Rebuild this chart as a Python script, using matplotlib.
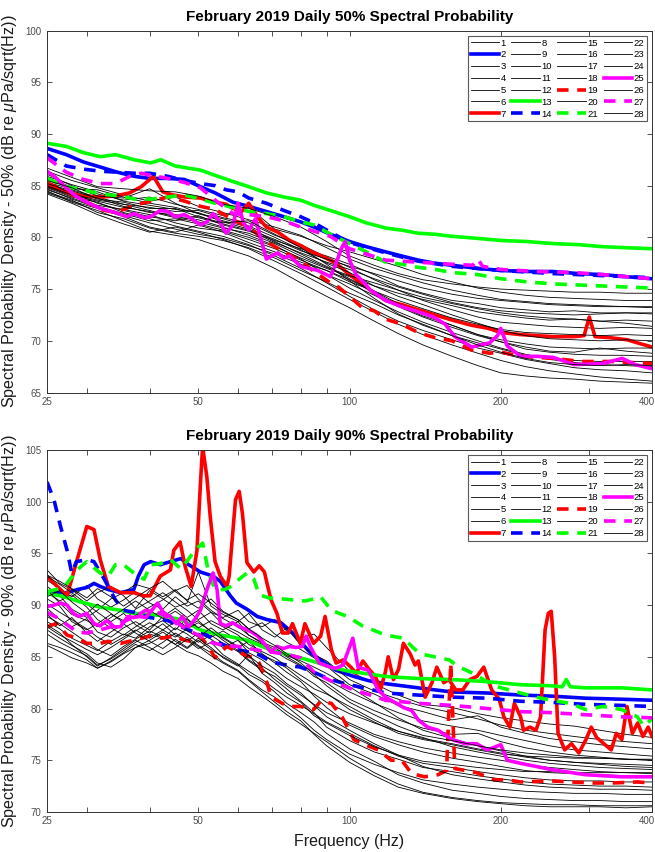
import matplotlib
matplotlib.use('Agg')
from matplotlib import pyplot as plt
from matplotlib import transforms
from matplotlib.ticker import FixedLocator, FixedFormatter, NullFormatter

plt.rcParams['font.family'] = ['Liberation Sans', 'DejaVu Sans']
plt.rcParams['mathtext.fontset'] = 'custom'
plt.rcParams['mathtext.it'] = 'Liberation Sans:italic'
plt.rcParams['mathtext.rm'] = 'Liberation Sans'

# ---- 50% daily spectra (dB re uPa/sqrt(Hz)) ----
freq_50 = [25, 28, 31.5, 35.5, 40, 45, 50, 56, 63, 71, 80, 90, 100, 112, 125,
           140, 160, 180, 200, 224, 250, 280, 315, 355, 400]

p50_d01 = [85.6, 84.9, 84.2, 83.6, 83.9, 83.2, 82.7, 82.1, 82.9, 80.8, 80.1, 79.2, 78.6, 77.9, 77.2, 76.4, 75.7, 75.1, 74.7, 74.4, 74.2, 74.1, 74.0, 73.9, 73.9]
p50_d03 = [86.4, 85.5, 84.8, 84.1, 83.5, 83.9, 83.0, 82.4, 81.7, 81.0, 80.2, 79.0, 77.9, 77.0, 76.3, 75.6, 74.9, 74.4, 74.0, 73.8, 73.6, 73.5, 73.4, 73.3, 73.2]
p50_d04 = [85.1, 84.3, 83.3, 82.6, 82.0, 81.6, 82.1, 81.2, 80.6, 79.7, 78.9, 78.2, 77.4, 76.4, 75.3, 74.6, 73.9, 73.6, 73.2, 73.0, 72.8, 72.9, 72.7, 72.7, 72.6]
p50_d05 = [84.6, 83.8, 83.0, 82.3, 81.6, 81.8, 81.3, 80.7, 80.0, 79.1, 78.0, 77.0, 76.2, 75.3, 74.6, 74.0, 73.4, 72.8, 72.5, 72.2, 72.0, 72.1, 71.9, 72.0, 71.9]
p50_d06 = [85.8, 84.6, 83.9, 83.2, 82.9, 82.5, 82.6, 81.9, 81.4, 80.2, 79.3, 78.1, 77.1, 75.9, 74.9, 73.9, 73.0, 72.3, 71.8, 71.6, 71.4, 71.3, 71.2, 71.3, 71.2]
p50_d08 = [84.3, 83.5, 82.8, 82.0, 81.0, 80.5, 81.2, 80.5, 79.5, 78.6, 77.6, 76.8, 75.7, 74.8, 73.9, 73.1, 72.2, 71.6, 71.1, 70.8, 70.7, 70.6, 70.5, 70.6, 70.5]
p50_d09 = [85.3, 84.7, 84.6, 83.9, 83.3, 82.9, 82.3, 81.8, 81.1, 80.0, 78.8, 77.5, 76.6, 75.3, 74.3, 73.5, 72.5, 71.7, 71.0, 70.5, 70.2, 70.1, 70.0, 70.1, 70.0]
p50_d10 = [84.9, 84.0, 83.1, 82.7, 82.2, 81.4, 80.9, 80.6, 79.8, 78.9, 77.8, 76.8, 75.9, 74.7, 73.4, 72.4, 71.5, 70.6, 70.1, 69.7, 69.4, 69.3, 69.2, 69.3, 69.3]
p50_d11 = [86.1, 85.0, 84.0, 83.8, 84.7, 83.3, 82.3, 81.6, 81.0, 79.6, 78.4, 77.2, 76.0, 74.8, 73.6, 72.6, 71.5, 70.6, 69.9, 69.2, 68.9, 68.7, 68.6, 68.6, 68.5]
p50_d12 = [84.4, 83.6, 82.4, 81.8, 80.9, 80.4, 80.1, 79.7, 79.0, 78.0, 76.8, 75.7, 74.6, 73.6, 72.5, 71.6, 70.5, 69.8, 69.2, 68.6, 68.3, 68.1, 68.0, 68.0, 68.0]
p50_d15 = [85.4, 84.2, 83.6, 83.2, 82.6, 82.0, 81.7, 81.0, 80.2, 79.2, 77.9, 76.4, 75.1, 73.9, 72.8, 71.8, 70.8, 70.0, 69.3, 68.7, 68.2, 67.9, 67.7, 67.6, 67.5]
p50_d16 = [84.8, 83.9, 83.4, 82.4, 81.8, 81.1, 80.6, 80.1, 79.3, 78.2, 77.0, 75.6, 74.3, 73.0, 71.9, 71.0, 70.1, 69.3, 68.8, 68.2, 67.8, 67.4, 67.2, 67.1, 66.9]
p50_d17 = [84.2, 83.3, 82.2, 81.3, 80.5, 81.0, 80.5, 79.8, 78.9, 77.7, 76.5, 75.2, 74.0, 72.8, 71.6, 70.6, 69.6, 68.8, 68.1, 67.5, 67.1, 66.8, 66.5, 66.3, 66.1]
p50_d18 = [85.9, 85.1, 84.4, 83.5, 83.1, 82.7, 82.4, 81.5, 80.8, 79.8, 78.7, 77.9, 77.2, 76.5, 75.8, 75.1, 74.5, 74.1, 73.9, 73.7, 73.5, 73.4, 73.3, 73.3, 73.3]
p50_d20 = [85.2, 84.5, 83.8, 83.0, 82.4, 82.2, 81.9, 81.3, 80.7, 79.5, 78.5, 77.6, 76.9, 76.0, 75.2, 74.5, 73.7, 73.2, 72.9, 72.7, 72.6, 72.5, 72.6, 72.7, 72.7]
p50_d22 = [86.7, 85.8, 84.9, 84.7, 84.5, 84.4, 84.0, 83.2, 82.8, 82.0, 81.0, 79.6, 78.2, 77.3, 76.5, 75.9, 75.5, 75.2, 75.0, 74.9, 74.8, 74.7, 74.7, 74.6, 74.6]
p50_d23 = [85.0, 84.1, 83.5, 82.9, 82.5, 81.9, 81.5, 80.9, 80.4, 79.4, 78.2, 77.1, 76.3, 75.6, 74.9, 74.2, 73.6, 73.1, 72.7, 72.4, 72.2, 72.1, 71.9, 71.7, 71.4]
p50_d24 = [84.7, 83.7, 82.9, 82.1, 81.4, 80.8, 80.3, 79.9, 79.2, 78.4, 77.4, 76.4, 75.5, 74.4, 73.3, 72.3, 71.3, 70.5, 69.9, 69.4, 69.0, 68.9, 69.3, 69.0, 68.8]
p50_d26 = [85.5, 84.8, 83.7, 83.4, 82.8, 82.8, 82.0, 81.4, 81.6, 80.3, 79.0, 77.4, 75.8, 74.1, 72.6, 71.5, 70.5, 69.6, 68.9, 68.3, 67.9, 67.7, 67.6, 67.7, 67.6]
p50_d28 = [84.5, 83.4, 82.6, 81.6, 80.6, 80.2, 79.8, 79.0, 78.2, 77.0, 75.6, 74.3, 73.2, 71.9, 70.7, 69.6, 68.5, 67.6, 66.9, 66.6, 66.4, 66.3, 66.1, 66.0, 65.9]

f50_d02 = [25, 27.3, 29.5, 31.9, 34.5, 37.3, 40, 43.5, 46.9, 50.5, 54, 58.6, 63, 68.3, 74, 79.9, 85, 91.6, 100, 108, 118, 127, 137, 148, 160, 180, 200, 225, 254, 285, 319, 355, 400]
p50_d02 = [88.6, 88.0, 87.3, 86.8, 86.3, 85.9, 85.7, 85.7, 85.6, 84.9, 84.3, 83.4, 83.0, 82.5, 82.0, 81.5, 81.0, 80.3, 79.6, 79.1, 78.6, 78.2, 77.8, 77.5, 77.3, 77.0, 76.8, 76.7, 76.7, 76.5, 76.4, 76.2, 76.0]

f50_d07 = [25, 27.3, 29.5, 31.9, 34.2, 36.5, 38.5, 40.7, 42.5, 44.5, 47.1, 50.5, 53, 56.8, 58.6, 61, 63, 66, 68.3, 72, 76, 80, 84, 88, 94, 100, 110, 118, 127, 137, 148, 160, 175, 189, 200, 219, 254, 280, 293, 300, 308, 330, 357, 380, 400]
p50_d07 = [85.0, 84.4, 84.0, 83.9, 84.0, 84.3, 84.9, 85.9, 84.4, 84.1, 83.9, 83.8, 83.5, 83.2, 82.8, 82.5, 83.3, 81.8, 81.0, 80.5, 79.7, 79.2, 78.6, 78.2, 77.5, 76.4, 74.9, 73.9, 73.5, 73.0, 72.5, 72.0, 71.5, 71.2, 70.8, 70.6, 70.4, 70.4, 70.5, 72.3, 70.4, 70.3, 70.1, 69.7, 69.4]

f50_d13 = [25, 27.3, 29.5, 31.9, 34.2, 37.3, 40.2, 42.1, 45, 50.5, 54, 58.6, 63, 68.3, 74, 79.9, 85, 91.6, 100, 108, 118, 127, 137, 148, 160, 180, 200, 225, 254, 285, 319, 355, 400]
p50_d13 = [89.1, 88.8, 88.2, 87.8, 88.0, 87.5, 87.2, 87.5, 86.9, 86.5, 86.0, 85.4, 84.9, 84.3, 83.9, 83.6, 83.1, 82.6, 82.0, 81.4, 80.9, 80.7, 80.4, 80.3, 80.1, 79.9, 79.7, 79.6, 79.4, 79.3, 79.1, 79.0, 78.9]

f50_d14 = [25, 27.3, 29.5, 31.9, 34.5, 37.3, 40, 43.5, 46.9, 50.5, 54, 56.8, 60, 63, 68.3, 74, 79.9, 85, 91.6, 100, 118, 137, 160, 200, 254, 319, 400]
p50_d14 = [88.0, 86.9, 86.6, 86.4, 86.3, 86.2, 86.2, 85.9, 85.5, 85.2, 85.0, 84.6, 84.4, 83.8, 83.3, 82.6, 82.0, 81.4, 80.5, 79.5, 78.5, 77.7, 77.2, 76.8, 76.5, 76.3, 76.1]

f50_d19 = [25, 27.3, 29.5, 31.9, 34.2, 37.3, 40.2, 43.5, 47, 50.5, 54, 58.6, 63, 68.3, 74, 79.9, 85, 91.6, 95, 100, 106, 112, 118, 127, 137, 148, 160, 175, 190, 200, 220, 254, 290, 330, 365, 400]
p50_d19 = [85.3, 84.4, 83.6, 82.7, 82.4, 83.1, 83.5, 83.9, 83.5, 83.0, 82.7, 81.7, 81.0, 79.6, 78.6, 77.7, 76.7, 75.6, 75.2, 74.3, 73.2, 72.9, 72.1, 71.6, 70.8, 70.3, 70.0, 69.1, 68.8, 68.9, 68.5, 68.3, 68.0, 68.0, 67.9, 67.8]

f50_d21 = [25, 27.3, 29.5, 31.9, 35, 37.3, 40.2, 43.5, 47, 50.5, 54, 58.6, 63, 68.3, 74, 79.9, 85, 91.6, 100, 110, 118, 127, 137, 148, 160, 180, 200, 225, 254, 285, 319, 355, 400]
p50_d21 = [85.7, 84.9, 84.6, 84.2, 84.0, 83.7, 83.7, 83.9, 84.1, 83.7, 83.3, 82.9, 82.5, 82.3, 82.0, 81.5, 81.2, 80.3, 79.4, 78.4, 77.6, 77.4, 77.1, 76.9, 76.6, 76.4, 76.0, 75.7, 75.5, 75.4, 75.3, 75.2, 75.1]

f50_d25 = [25, 26, 27.3, 28.5, 30, 31.9, 34.2, 36, 37.3, 39, 40.2, 42, 43.5, 45, 46.9, 48.5, 50.5, 52, 53.5, 55, 56.8, 58.6, 60, 61.5, 63, 65, 68.3, 70.5, 72, 74, 76, 79.9, 83, 86.5, 91.6, 94, 96.5, 98, 100, 103, 106, 110, 118, 127, 137, 147, 155, 162, 175, 190, 197, 200, 206, 219, 236, 254, 280, 319, 349, 370, 400]
p50_d25 = [86.4, 85.8, 84.8, 84.0, 83.4, 82.8, 82.4, 82.0, 82.3, 81.9, 82.0, 82.6, 82.5, 82.0, 82.2, 81.8, 81.2, 81.5, 82.3, 81.6, 80.4, 81.2, 83.3, 81.4, 80.7, 81.8, 77.9, 78.3, 78.5, 78.0, 78.2, 77.2, 77.0, 76.8, 76.2, 77.5, 79.0, 79.6, 77.8, 76.4, 75.8, 74.9, 73.9, 73.3, 72.8, 72.3, 71.6, 70.4, 69.4, 69.8, 70.5, 71.2, 69.5, 68.5, 68.5, 68.4, 67.7, 67.8, 68.3, 67.7, 67.3]

f50_d27 = [25, 27.3, 29.5, 31.9, 34.2, 36.5, 38.5, 40.2, 43.5, 47, 50.5, 54, 58.6, 63, 68.3, 74, 79.9, 85, 91.6, 100, 118, 137, 160, 176, 180, 184, 200, 236, 280, 319, 355, 400]
p50_d27 = [87.7, 86.3, 85.6, 85.2, 85.2, 85.9, 86.2, 86.0, 85.7, 85.3, 84.8, 83.6, 82.3, 82.2, 82.0, 81.6, 81.0, 80.6, 80.1, 78.9, 77.8, 77.6, 77.4, 77.3, 77.9, 77.2, 76.9, 76.7, 76.6, 76.4, 76.2, 76.0]

# ---- 90% daily spectra ----
freq_90 = [25, 26.5, 28, 30, 31.5, 33.5, 35.5, 37.5, 40, 42.5, 45, 47.5, 50, 53, 56, 60, 63, 67,
           71, 75, 80, 85, 90, 100, 112, 125, 140, 160, 180, 200, 224, 250, 280, 315, 355, 400]

p90_d01 = [92.4, 91.6, 90.8, 91.9, 90.6, 89.8, 90.5, 91.3, 90.2, 89.6, 90.8, 89.9, 90.4, 89.3, 88.8, 89.5, 88.4, 87.9, 88.6, 87.5, 86.8, 87.2, 85.9, 83.6, 82.4, 81.3, 80.4, 80.1, 79.5, 79.1, 78.8, 78.5, 78.3, 77.9, 77.5, 77.2]
p90_d03 = [93.4, 92.1, 91.5, 90.4, 91.2, 91.8, 90.9, 89.7, 91.4, 90.6, 89.8, 90.2, 93.2, 89.9, 89.1, 88.4, 89.2, 87.6, 86.9, 87.8, 86.1, 85.2, 84.6, 82.8, 81.7, 80.9, 80.2, 79.6, 79.0, 78.4, 77.9, 77.6, 77.3, 77.0, 76.8, 76.6]
p90_d04 = [91.8, 90.9, 89.6, 88.8, 89.5, 90.6, 91.2, 92.0, 91.6, 90.8, 91.5, 90.4, 89.7, 90.6, 89.4, 88.6, 87.7, 88.3, 87.2, 86.4, 85.7, 84.9, 84.1, 82.3, 81.4, 80.3, 79.7, 78.9, 79.3, 78.2, 77.6, 77.1, 76.8, 76.5, 76.3, 76.1]
p90_d05 = [90.6, 89.9, 88.4, 87.6, 88.2, 89.1, 88.5, 89.6, 90.4, 91.2, 90.3, 89.5, 88.6, 89.3, 88.1, 87.4, 86.8, 86.2, 85.5, 84.8, 84.1, 83.6, 82.8, 81.6, 80.5, 79.6, 78.8, 78.3, 77.9, 77.4, 76.9, 76.4, 76.0, 75.8, 75.6, 75.4]
p90_d06 = [89.7, 88.6, 87.9, 88.7, 87.4, 86.9, 87.8, 88.4, 87.6, 88.9, 89.7, 88.8, 89.5, 88.2, 87.6, 88.4, 87.1, 86.3, 85.7, 85.0, 84.2, 83.1, 82.5, 80.9, 79.8, 78.9, 78.1, 77.5, 77.6, 76.8, 76.2, 75.8, 75.5, 75.3, 75.1, 75.0]
p90_d08 = [88.4, 87.7, 86.8, 86.1, 85.6, 86.5, 87.2, 86.8, 87.9, 88.5, 87.6, 88.7, 87.8, 86.9, 87.5, 86.6, 85.8, 85.2, 84.6, 83.9, 82.8, 81.9, 81.4, 80.2, 78.9, 77.8, 77.1, 76.6, 76.1, 75.7, 75.3, 75.0, 74.8, 74.7, 74.6, 74.5]
p90_d09 = [92.8, 92.0, 91.2, 90.1, 89.3, 88.4, 89.2, 88.1, 87.3, 88.2, 87.1, 86.5, 87.3, 86.7, 85.9, 86.6, 85.4, 84.7, 83.8, 82.9, 82.1, 81.4, 80.6, 79.5, 78.6, 77.8, 77.2, 76.3, 75.8, 75.4, 75.0, 74.7, 74.5, 74.3, 74.2, 74.1]
p90_d10 = [87.2, 86.4, 85.8, 85.1, 84.2, 84.8, 85.6, 86.4, 87.2, 86.8, 87.8, 87.2, 86.4, 87.1, 86.3, 85.5, 84.6, 83.7, 83.1, 82.2, 81.3, 80.4, 79.6, 78.6, 77.5, 76.8, 76.2, 75.7, 75.3, 75.0, 74.6, 74.3, 74.1, 73.9, 73.8, 73.7]
p90_d11 = [91.2, 90.4, 91.0, 89.8, 88.6, 87.8, 87.1, 87.9, 88.8, 89.5, 88.6, 87.9, 88.5, 87.4, 86.8, 85.9, 86.5, 85.3, 84.4, 83.5, 82.6, 81.2, 80.1, 78.4, 77.3, 76.5, 75.8, 75.2, 74.8, 74.4, 74.0, 73.8, 73.7, 73.6, 73.5, 73.4]
p90_d12 = [86.3, 85.9, 85.4, 84.7, 83.9, 84.6, 85.4, 86.2, 85.6, 86.4, 87.3, 86.6, 85.8, 86.4, 85.2, 84.3, 83.6, 82.8, 81.9, 81.1, 80.3, 79.5, 78.7, 77.6, 76.4, 75.4, 74.7, 74.3, 73.9, 73.6, 73.3, 73.1, 73.0, 73.0, 72.9, 72.9]
p90_d15 = [90.1, 89.3, 88.6, 87.7, 86.9, 86.2, 86.9, 87.6, 86.8, 87.6, 86.9, 87.7, 88.3, 87.5, 86.6, 85.6, 84.7, 83.9, 82.8, 81.9, 80.7, 79.6, 78.2, 76.9, 75.8, 75.1, 74.3, 73.9, 73.5, 73.2, 72.9, 72.7, 72.6, 72.5, 72.5, 72.4]
p90_d16 = [88.9, 88.2, 87.4, 86.4, 85.7, 85.1, 86.0, 86.7, 87.5, 86.9, 86.2, 86.9, 86.1, 85.4, 84.5, 83.7, 82.8, 81.8, 81.1, 80.2, 79.1, 77.9, 77.0, 75.6, 74.6, 73.8, 73.1, 72.7, 72.4, 72.2, 72.0, 71.9, 71.8, 71.8, 71.7, 71.7]
p90_d17 = [87.6, 86.8, 86.1, 85.3, 84.4, 84.0, 84.8, 85.9, 86.6, 87.4, 86.5, 85.8, 86.6, 85.7, 85.0, 84.2, 83.3, 82.6, 81.6, 80.5, 79.6, 78.7, 77.6, 76.1, 74.9, 73.6, 72.8, 72.1, 71.8, 71.5, 71.3, 71.2, 71.1, 71.1, 71.0, 71.0]
p90_d18 = [86.1, 85.5, 84.9, 84.4, 83.9, 84.5, 85.3, 85.9, 86.3, 87.0, 86.2, 85.5, 85.1, 84.4, 83.6, 82.9, 82.1, 81.2, 80.3, 79.4, 78.5, 77.6, 76.8, 75.2, 73.8, 72.7, 71.9, 71.4, 71.1, 70.9, 70.8, 70.7, 70.7, 70.6, 70.6, 70.6]
p90_d20 = [91.5, 90.2, 89.1, 88.5, 87.9, 88.8, 89.6, 90.4, 89.5, 88.7, 89.4, 88.6, 87.8, 88.5, 87.9, 87.1, 86.2, 85.5, 84.9, 84.1, 83.2, 82.4, 81.5, 79.9, 78.7, 77.6, 77.0, 76.5, 76.0, 75.6, 75.4, 75.3, 75.2, 75.2, 75.1, 75.1]
p90_d22 = [89.1, 88.0, 88.8, 87.3, 86.5, 87.4, 88.2, 87.3, 86.5, 85.8, 86.7, 85.9, 86.8, 85.9, 84.9, 84.1, 85.2, 83.4, 82.5, 81.5, 80.6, 79.3, 78.6, 77.4, 76.3, 75.5, 74.9, 74.6, 74.3, 74.1, 73.9, 73.9, 73.8, 73.8, 73.8, 73.8]
p90_d23 = [90.8, 91.4, 90.3, 89.2, 90.1, 89.2, 88.3, 89.0, 89.8, 90.5, 91.4, 91.9, 90.6, 89.5, 88.7, 87.9, 87.1, 86.4, 85.9, 85.1, 84.6, 84.0, 83.4, 82.1, 80.6, 79.1, 77.9, 77.1, 76.4, 75.9, 75.4, 75.0, 74.8, 74.6, 74.4, 74.3]
p90_d24 = [87.9, 87.1, 86.5, 85.7, 85.2, 85.9, 86.7, 87.5, 88.3, 87.6, 88.4, 87.5, 86.9, 87.8, 86.9, 86.0, 85.1, 84.1, 83.4, 82.4, 81.5, 80.3, 79.2, 77.9, 76.6, 75.5, 74.4, 73.6, 73.2, 72.9, 72.6, 72.4, 72.3, 72.2, 72.2, 72.1]
p90_d26 = [88.1, 87.3, 86.2, 85.0, 84.1, 84.9, 85.8, 86.6, 85.9, 85.2, 85.9, 86.7, 86.0, 85.1, 84.4, 83.6, 82.7, 81.6, 80.6, 79.7, 78.8, 77.5, 76.4, 74.8, 73.5, 72.4, 71.8, 71.3, 71.0, 70.8, 70.6, 70.5, 70.5, 70.5, 70.4, 70.5]
p90_d28 = [92.9, 92.3, 91.6, 90.7, 91.6, 90.8, 89.9, 90.7, 91.6, 92.3, 91.3, 90.5, 91.1, 90.2, 89.3, 88.6, 87.7, 86.8, 86.1, 85.3, 84.4, 83.3, 82.2, 80.6, 79.4, 78.3, 77.4, 76.9, 76.4, 76.0, 75.7, 75.5, 75.3, 75.2, 75.1, 75.0]

f90_d02 = [25, 27.4, 28.7, 30.0, 31.0, 31.9, 33.1, 35.0, 37.2, 38.0, 39.0, 40.2, 42.0, 44.0, 46.2, 47.5, 50.5, 53.5, 55.3, 57.9, 59.5, 62.5, 65.5, 68.5, 73.0, 77.5, 79.8, 83.5, 87.6, 94, 102, 109, 118, 137, 160, 188, 219, 252, 295, 348, 400]
p90_d02 = [91.2, 91.2, 91.5, 91.7, 92.1, 91.8, 91.5, 91.2, 91.5, 92.8, 93.9, 94.2, 93.9, 94.2, 94.5, 94.0, 93.2, 92.8, 92.3, 90.9, 90.2, 89.6, 88.9, 88.6, 88.3, 87.2, 86.5, 85.4, 84.7, 83.7, 83.1, 82.7, 82.4, 82.0, 81.6, 81.5, 81.3, 81.2, 81.0, 80.9, 80.8]

f90_d07 = [25, 26.6, 27.4, 28.7, 30.0, 31.0, 31.9, 33.1, 35.0, 37.2, 38.9, 40.1, 42.0, 44.0, 44.7, 46.0, 47.1, 48.4, 49.7, 50.5,
           51.0, 52.0, 52.8, 54.0, 55.3, 57.0, 57.6, 59.3, 60.3, 61.2, 62.5, 64.5, 66.1, 67.7, 68.5, 69.8, 71.7, 73.5, 75.5, 77.0,
           79.8, 81.5, 84.8, 87.6, 89.4, 92, 94, 97.1, 100.6, 103.1, 106.3, 109.3, 112.6, 115.2, 117.8, 119.4, 122.3, 125.2, 128, 132,
           135, 137.1, 141.4, 145.9, 149.2, 154, 157.7, 162.7, 168, 173.5, 179.3, 185, 191.8, 198.6, 202.8, 208.5, 212.8, 219, 222, 228.6,
           235, 240, 245, 248.6, 252, 256, 260, 268, 276.5, 286, 295.5, 302.7, 310.3, 320.7, 331.7, 339.6, 348.3, 356.6, 365.5, 374.5,
           383.7, 393, 400]
p90_d07 = [92.75, 91.5, 90.9, 94.4, 97.6, 97.3, 94.4, 91.8, 91.2, 91.2, 90.9, 90.9, 92.8, 93.4, 95.3, 96.1, 93.7, 91.8, 95.3, 101.8,
           105.3, 102.4, 98.6, 94.2, 92.8, 91.8, 92.8, 100.2, 101.0, 98.9, 94.1, 93.2, 93.8, 93.2, 92.1, 90.5, 89.2, 87.3, 87.3, 88.2,
           86.3, 88.2, 86.3, 87.0, 88.9, 85.7, 84.4, 84.7, 84.0, 83.4, 84.6, 83.8, 83.1, 81.8, 83.5, 85.0, 82.8, 83.8, 86.3, 85.3,
           84.2, 84.6, 81.1, 82.5, 84.0, 82.5, 82.8, 81.8, 81.8, 82.8, 83.1, 84.0, 81.8, 80.9, 79.2, 78.2, 80.5, 79.2, 77.9, 78.2,
           77.9, 79.2, 87.6, 89.2, 89.4, 85.0, 77.6, 76.0, 76.6, 75.7, 77.0, 78.2, 77.2, 76.6, 76.0, 77.6, 77.0, 80.2, 77.6, 78.6,
           77.3, 78.2, 77.3]

f90_d13 = [25, 26.6, 28.7, 31.9, 35.0, 37.2, 40.0, 42.0, 46.2, 50.5, 55.3, 58.6, 62.5, 68.5, 74, 79.8, 85.5, 91.5, 100, 118, 137, 160, 188, 219, 252, 265, 270, 275, 295, 348, 400]
p90_d13 = [91.1, 90.9, 90.4, 89.8, 89.5, 89.2, 89.1, 89.0, 88.6, 87.6, 87.1, 86.9, 86.6, 85.8, 85.3, 84.9, 84.5, 84.0, 83.6, 83.1, 82.9, 82.8, 82.6, 82.3, 82.2, 82.1, 82.8, 82.1, 82.0, 82.0, 81.8]

f90_d14 = [25, 25.8, 26.6, 27.4, 28.0, 28.6, 30.0, 31.0, 32.5, 34.2, 35.5, 37.2, 40.0, 43.5, 46.2, 49.0, 52.0, 55.3, 58.6, 62.5, 66, 70, 75, 79.8, 85, 91.5, 100, 109, 118, 137, 160, 188, 219, 252, 295, 348, 400]
p90_d14 = [101.9, 100.2, 97.6, 95.3, 93.1, 94.2, 94.4, 94.2, 92.5, 90.5, 89.5, 89.3, 88.8, 88.5, 87.9, 87.4, 87.1, 86.3, 85.8, 85.5, 85.2, 84.5, 84.2, 84.0, 83.5, 82.8, 82.3, 81.9, 81.5, 81.3, 81.1, 81.0, 80.7, 80.6, 80.4, 80.3, 80.2]

f90_d19 = [25, 26.0, 26.6, 27.4, 28.7, 30.0, 31.9, 33.1, 35.0, 37.2, 40.1, 42.3, 44.7, 47.0, 48.4, 50.5, 52.8, 54.0, 57.0, 58.6,
           62.5, 64.5, 66.1, 68.5, 69.8, 73.5, 75.5, 79.8, 84.8, 87.6, 92, 96.6, 102, 106, 114, 121, 127, 133, 141, 150,
           156, 159, 162, 166, 179, 194, 206, 219, 252, 275, 305, 333, 374, 400]
p90_d19 = [87.9, 88.2, 87.8, 87.1, 86.8, 86.3, 86.3, 86.5, 86.3, 86.6, 87.0, 86.8, 87.0, 86.6, 86.5, 87.0, 85.7, 84.9, 86.0, 85.7,
           85.1, 84.9, 84.4, 82.5, 81.1, 80.5, 80.2, 80.2, 79.9, 80.7, 80.5, 79.2, 77.0, 76.6, 76.0, 75.0, 75.0, 73.7, 73.4, 73.6,
           74.0, 84.4, 74.2, 74.1, 73.8, 73.1, 73.1, 72.9, 73.0, 72.9, 72.8, 72.8, 72.9, 72.8]

f90_d21 = [25, 26.6, 27.4, 28.7, 30.0, 31.0, 31.9, 33.1, 34.2, 35.5, 37.2, 39.0, 40.2, 42.0, 44.0, 46.2, 48.4, 50.0, 51.0, 52.5,
           54.0, 56.5, 58.6, 60.3, 62.5, 64.5, 66.1, 69.0, 73.5, 77.0, 81.5, 85, 87.6, 92, 99, 106, 118, 128, 135, 141,
           158, 164, 176, 188, 197, 219, 235, 252, 275, 295, 320, 348, 374, 385, 400]
p90_d21 = [91.3, 91.6, 92.1, 93.4, 94.2, 93.6, 93.1, 92.8, 93.9, 93.9, 93.1, 92.5, 93.9, 94.0, 94.4, 93.5, 94.8, 95.6, 96.0, 93.0,
           91.5, 91.5, 91.9, 92.5, 93.1, 92.5, 91.0, 90.7, 90.6, 90.5, 90.4, 90.6, 90.8, 89.5, 88.9, 88.0, 87.1, 86.8, 85.7, 85.2,
           84.7, 84.1, 83.4, 82.6, 82.1, 81.5, 81.1, 80.8, 80.5, 79.9, 80.2, 79.9, 79.2, 78.3, 79.0]

f90_d25 = [25, 25.8, 26.6, 27.4, 28.2, 28.9, 30.0, 31.0, 31.9, 32.9, 34.0, 35.0, 36.2, 37.2, 38.2, 39.3, 40.4, 41.5, 42.7, 44.0,
           45.2, 46.5, 47.8, 49.2, 50.5, 52.0, 53.5, 54.5, 55.3, 56.8, 58.5, 60.3, 62.0, 63.8, 65.7, 67.6, 69.6, 71.7, 73.8, 76.0,
           78.2, 80.5, 82.0, 83.5, 87.0, 91.5, 94, 97, 101.5, 104, 109, 114, 118, 124, 128, 133, 137, 143, 150, 160,
           170, 179, 188, 200, 206, 219, 235, 252, 295, 348, 400]
p90_d25 = [89.85, 90.0, 90.2, 90.0, 89.2, 88.9, 89.2, 88.2, 88.0, 88.5, 87.9, 87.9, 88.9, 88.8, 88.9, 88.8, 89.5, 90.2, 89.2, 88.9,
           88.2, 88.9, 87.9, 88.6, 89.5, 91.5, 93.1, 91.5, 88.2, 88.0, 88.3, 87.9, 87.7, 87.4, 87.0, 86.3, 85.5, 86.0, 85.8, 86.0,
           85.9, 86.0, 87.0, 86.0, 84.4, 84.0, 83.9, 84.2, 86.8, 84.0, 83.7, 81.8, 81.1, 80.5, 80.1, 79.8, 78.9, 78.2, 77.9, 77.0,
           76.6, 76.6, 76.0, 76.5, 75.0, 74.7, 74.4, 74.1, 73.6, 73.4, 73.4]

f90_d27 = [25, 26.6, 27.4, 28.7, 30.0, 31.9, 33.5, 35.5, 37.5, 39.3, 42, 45, 48, 50.5, 53, 56, 60, 63, 68.5, 74, 80, 85, 91.5, 96, 102, 110, 118, 137, 160, 188, 219, 252, 295, 348, 400]
p90_d27 = [89.3, 88.6, 88.1, 87.4, 87.3, 87.6, 87.9, 88.4, 88.9, 89.5, 89.2, 88.4, 87.5, 87.0, 86.4, 86.1, 86.0, 85.8, 85.5, 85.3, 84.9, 83.5, 82.7, 82.3, 81.8, 81.3, 80.8, 80.5, 80.3, 80.0, 79.7, 79.6, 79.4, 79.2, 79.1]

# highlighted days: (colour, dashed?)
day_style = {2: ('#0000ff', False), 7: ('#ff0000', False), 13: ('#00ff00', False),
             14: ('#0000ff', True), 19: ('#ff0000', True), 21: ('#00ff00', True),
             25: ('#ff00ff', False), 27: ('#ff00ff', True)}

g = globals()
days = range(1, 29)
series_50 = []
series_90 = []
for d in days:
    if d in day_style:
        series_50.append((g['f50_d%02d' % d], g['p50_d%02d' % d]))
        series_90.append((g['f90_d%02d' % d], g['p90_d%02d' % d]))
    else:
        series_50.append((freq_50, g['p50_d%02d' % d]))
        series_90.append((freq_90, g['p90_d%02d' % d]))


def draw_panel(ax, series, title, ylabel, ymin, ymax):
    for d, (f, v) in zip(days, series):
        if d in day_style:
            col, dashed = day_style[d]
            ln, = ax.plot(f, v, color=col, lw=2.6, label=str(d))
            if dashed:
                ln.set_dashes([3.2, 2.4])
        else:
            ax.plot(f, v, color='black', lw=0.6, label=str(d))
    ax.set_xscale('log')
    ax.set_xlim(25, 400)
    ax.set_ylim(ymin, ymax)
    ax.xaxis.set_major_locator(FixedLocator([25, 50, 100, 200, 400]))
    ax.xaxis.set_major_formatter(FixedFormatter(['25', '50', '100', '200', '400']))
    ax.xaxis.set_minor_locator(FixedLocator([30, 40, 60, 70, 80, 90, 300]))
    ax.xaxis.set_minor_formatter(NullFormatter())
    ax.set_yticks(range(ymin, ymax + 1, 5))
    ax.tick_params(which='both', direction='in', top=True, right=True,
                   length=3.5, width=0.6, labelsize=7, labelcolor='0.3', color='0.2')
    ax.tick_params(axis='x', pad=3)
    ax.tick_params(axis='y', pad=4)
    for s in ax.spines.values():
        s.set_linewidth(0.7)
        s.set_color('0.2')
    ax.set_title(title, fontsize=11, fontweight='bold', pad=7)
    ax.set_ylabel(ylabel, fontsize=11.6, color='0.1')
    ax.yaxis.set_label_coords(-0.047, 0.5)
    leg = ax.legend(ncol=4, loc='upper right', fontsize=6.8, frameon=True, fancybox=False,
                    edgecolor='0.35', framealpha=1, handlelength=3.0, handletextpad=0.15,
                    columnspacing=0.6, labelspacing=0.3, borderpad=0.3, borderaxespad=0.55)
    leg.get_frame().set_linewidth(0.8)
    # keep the last frequency label inside the figure edge
    fig.canvas.draw()
    last = ax.get_xticklabels()[-1]
    last.set_transform(last.get_transform() +
                       transforms.ScaledTranslation(-4 / 72, 0, fig.dpi_scale_trans))


fig = plt.figure(figsize=(6.55, 8.52), dpi=100)
ax1 = fig.add_axes([0.0718, 0.5393, 0.9237, 0.4249])
ax2 = fig.add_axes([0.0718, 0.0470, 0.9237, 0.4249])

draw_panel(ax1, series_50, 'February 2019 Daily 50% Spectral Probability',
           r'Spectral Probability Density - 50% (dB re $\mu$Pa/sqrt(Hz))', 65, 100)
draw_panel(ax2, series_90, 'February 2019 Daily 90% Spectral Probability',
           r'Spectral Probability Density - 90% (dB re $\mu$Pa/sqrt(Hz))', 70, 105)
ax2.set_xlabel('Frequency (Hz)', fontsize=11.5, color='0.1', labelpad=6)

fig.savefig('out.png', dpi=100)
